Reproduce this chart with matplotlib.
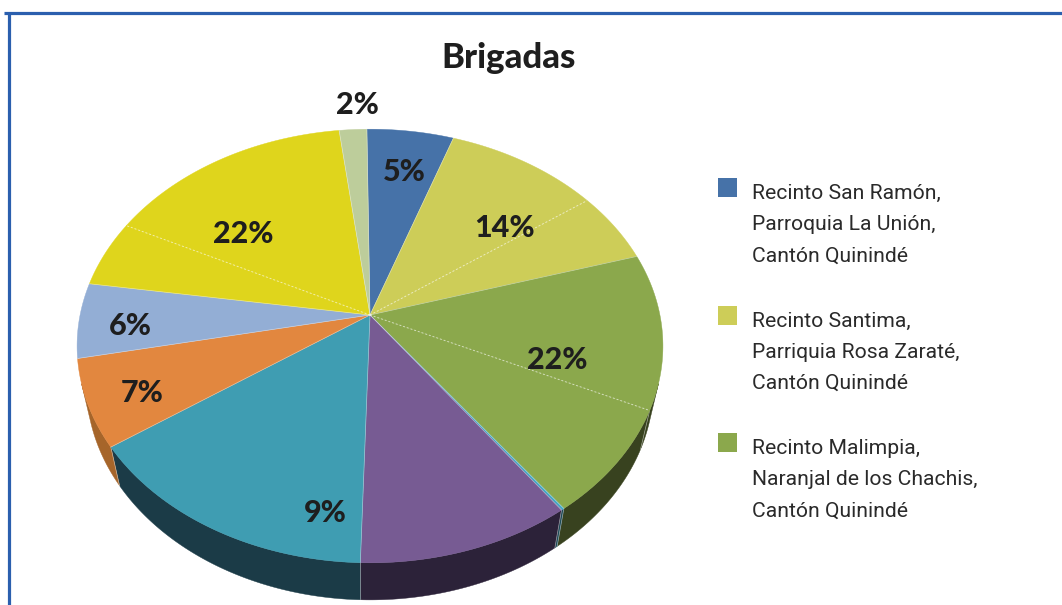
import numpy as np
import matplotlib
matplotlib.use("Agg")
import matplotlib.pyplot as plt
from matplotlib.patches import Polygon, Rectangle
from matplotlib.lines import Line2D

# ---------------- data ----------------
title = "Brigadas"
slice_values = [5.5, 9.8, 5.3, 11.6, 8.0, 0.15, 10.4, 14.9, 6.5, 5.6, 5.0, 15.7, 1.75]
percent_labels = ["5%", "14%", "22%", "9%", "7%", "6%", "22%", "2%"]
legend_names = [
    ["Recinto San Ramón,", "Parroquia La Unión,", "Cantón Quinindé"],
    ["Recinto Santima,", "Parriquia Rosa Zaraté,", "Cantón Quinindé"],
    ["Recinto Malimpia,", "Naranjal de los Chachis,", "Cantón Quinindé"],
]

# ---------------- style ----------------
top_colors = ['#4672a8', '#cdcd58', '#cdcd58', '#8ba84c', '#8ba84c', '#45a8c4',
              '#775b93', '#3f9db2', '#e2873f', '#93aed5', '#dfd51c', '#dfd51c', '#bdcd9b']
side_colors = ['#2a4466', '#7a7a33', '#7a7a33', '#38421f', '#38421f', '#1d4a57',
               '#2c2239', '#1b3b47', '#a6652a', '#5a6b85', '#86800f', '#86800f', '#71795c']
legend_colors = ['#4672a8', '#cdcd58', '#8ba84c']
# label anchors (angle in degrees on the disk, radius as fraction)
label_layout = [(80.1, 0.755), (41.3, 0.658), (-18.2, 0.659), (-99.5, 0.833),
                (-155.0, 0.824), (-176.4, 0.823), (139.0, 0.614), (92.6, 1.15)]
start_angle = 90.7

W, H = 1062, 605
fig = plt.figure(figsize=(W / 100, H / 100), dpi=100)
ax = fig.add_axes([0, 0, 1, 1])
ax.set_xlim(0, W)
ax.set_ylim(H, 0)
ax.axis('off')

# perspective camera
X0, Y0 = 370.0, 315.0
F, Dd = 1380.0, 4.76
elev = np.deg2rad(47.1)
hgt = 0.207
ce, se = np.cos(elev), np.sin(elev)


def proj(theta_deg, r, z):
    t = np.deg2rad(np.asarray(theta_deg, dtype=float))
    x = r * np.cos(t)
    y = r * np.sin(t)
    depth = Dd + y * ce - z * se
    X = X0 + F * x / depth
    Y = Y0 - F * (y * se + z * ce) / depth
    return X, Y


vals = np.array(slice_values, dtype=float)
spans = vals / vals.sum() * 360.0
bounds = start_angle - np.concatenate([[0], np.cumsum(spans)])

vis_lo = -180 + np.rad2deg(np.arcsin(1 / (Dd * ce)))
vis_hi = -np.rad2deg(np.arcsin(1 / (Dd * ce)))

# walls
for i in range(len(vals)):
    a, b = bounds[i], bounds[i + 1]  # a > b
    hi = min(a, vis_hi)
    lo = max(b, vis_lo)
    if hi <= lo:
        continue
    n = max(int((hi - lo) * 2), 4)
    th = np.linspace(hi, lo, n)
    xt, yt = proj(th, 1.0, 0.0)
    xb, yb = proj(th[::-1], 1.0, -hgt)
    pts = np.column_stack([np.concatenate([xt, xb]), np.concatenate([yt, yb])])
    ax.add_patch(Polygon(pts, closed=True, facecolor=side_colors[i],
                         edgecolor=side_colors[i], lw=0.3, zorder=1))
    if vis_lo < a < vis_hi:
        xa, ya = proj([a, a], 1.0, np.array([0.0, -hgt]))
        ax.add_line(Line2D(xa, ya, color='white', lw=0.5, alpha=0.5, zorder=1.5))

# top faces
cx, cy = proj(0.0, 0.0, 0.0)
for i in range(len(vals)):
    a, b = bounds[i], bounds[i + 1]
    n = max(int((a - b) * 2), 3)
    th = np.linspace(a, b, n)
    xt, yt = proj(th, 1.0, 0.0)
    pts = np.column_stack([np.concatenate([[cx], xt]), np.concatenate([[cy], yt])])
    ax.add_patch(Polygon(pts, closed=True, facecolor=top_colors[i],
                         edgecolor=top_colors[i], lw=0.3, zorder=2))

# radial separators
for i in range(len(vals)):
    a = bounds[i]
    prev = top_colors[i - 1]
    ex, ey = proj(a, 1.0, 0.0)
    if prev == top_colors[i]:
        ax.add_line(Line2D([cx, ex], [cy, ey], color='white', lw=0.7, alpha=0.6,
                           ls=(0, (2, 2)), zorder=3))
    else:
        ax.add_line(Line2D([cx, ex], [cy, ey], color='white', lw=0.5, alpha=0.45,
                           zorder=3))

# percent labels
for txt, (ang, r) in zip(percent_labels, label_layout):
    lx, ly = proj(ang, r, 0.0)
    ax.text(lx, ly, txt, ha='center', va='center', fontsize=22,
            family=['Lato', 'DejaVu Sans'], fontweight='black', color='#1e1e1e', zorder=5)

# title
ax.text(509, 68, title, ha='center', va='baseline', fontsize=25,
        family=['Lato', 'DejaVu Sans'], fontweight='black', color='#1e1e1e')

# legend
for k, (lines, col) in enumerate(zip(legend_names, legend_colors)):
    top = 178 + k * 127.5
    ax.add_patch(Rectangle((718, top), 19, 19, facecolor=col, edgecolor='none'))
    for j, line in enumerate(lines):
        ax.text(752, top + 21 + j * 31.3, line, ha='left', va='baseline',
                fontsize=15.2, family=['Roboto', 'DejaVu Sans'], color='#2a2a2a')

# frame
ax.add_line(Line2D([4, W], [13, 13], color='#2b5fae', lw=2.3, solid_capstyle='butt'))
ax.add_line(Line2D([8.5, 8.5], [13, H], color='#2b5fae', lw=2.3, solid_capstyle='butt'))

fig.savefig('out.png', dpi=100)
